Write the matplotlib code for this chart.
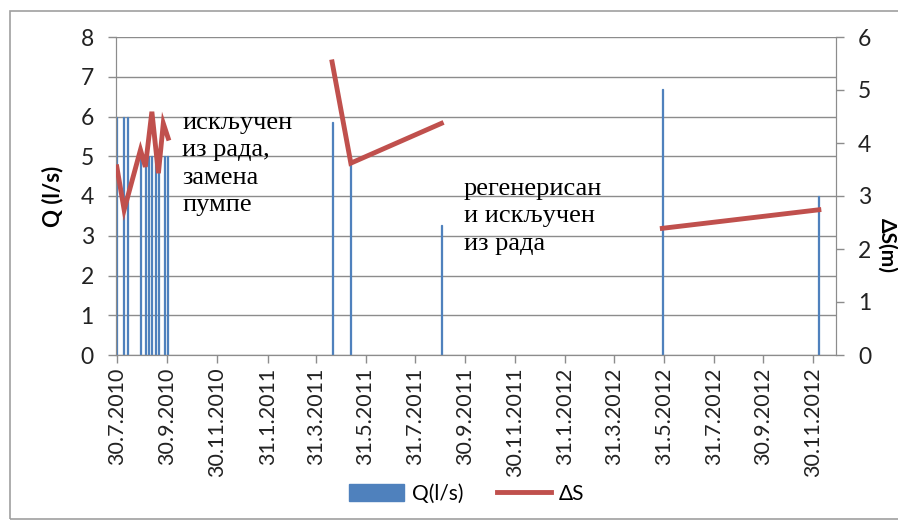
import datetime as dt
import matplotlib
matplotlib.use("Agg")
import matplotlib.pyplot as plt
from matplotlib.patches import Rectangle, Patch
from matplotlib.lines import Line2D

# measurement dates (day, month, year)
q_dates = [(30, 7, 2010), (7, 8, 2010), (12, 8, 2010), (28, 8, 2010), (3, 9, 2010),
           (7, 9, 2010), (11, 9, 2010), (15, 9, 2010), (19, 9, 2010), (26, 9, 2010),
           (30, 9, 2010), (20, 4, 2011), (13, 5, 2011), (1, 9, 2011), (29, 5, 2012),
           (7, 12, 2012)]
q_values = [6.0, 6.0, 6.0, 5.0, 5.0, 5.0, 5.0, 5.0, 5.0, 5.0,
            5.0, 5.85, 4.82, 3.27, 6.7, 4.0]

# drawdown, split into separate runs of readings
ds_runs = [
    ([(30, 7, 2010), (8, 8, 2010), (28, 8, 2010), (3, 9, 2010), (11, 9, 2010),
      (19, 9, 2010), (25, 9, 2010), (1, 10, 2010)],
     [3.55, 2.74, 3.87, 3.55, 4.59, 3.43, 4.37, 4.09]),
    ([(20, 4, 2011), (13, 5, 2011), (1, 9, 2011)],
     [5.53, 3.62, 4.37]),
    ([(29, 5, 2012), (7, 12, 2012)],
     [2.39, 2.74]),
]

tick_dates = [(30, 7, 2010), (30, 9, 2010), (30, 11, 2010), (31, 1, 2011), (31, 3, 2011),
              (31, 5, 2011), (31, 7, 2011), (30, 9, 2011), (30, 11, 2011), (31, 1, 2012),
              (31, 3, 2012), (31, 5, 2012), (31, 7, 2012), (30, 9, 2012), (30, 11, 2012)]


def d(t):
    return dt.date(t[2], t[1], t[0])


blue = "#4F81BD"
red = "#C0504D"
grid = "#8C8C8C"
sans = "Lato"

fig = plt.figure(figsize=(8.98, 5.26), dpi=100)
fig.patches.append(Rectangle((10 / 898, 7 / 526), 895 / 898, 508 / 526,
                             transform=fig.transFigure, fill=False,
                             edgecolor="#A0A0A0", linewidth=1.2))

ax = fig.add_axes([116 / 898, 1 - 355 / 526, 720 / 898, 318 / 526])
ax2 = ax.twinx()

ax.bar([d(t) for t in q_dates], q_values, width=1.3, color="#A7C0E0",
       edgecolor=blue, linewidth=0.9, zorder=2)
for dates, vals in ds_runs:
    ax2.plot([d(t) for t in dates], vals, color=red, linewidth=3.5,
             solid_joinstyle="miter", zorder=3)

ax.set_xlim(dt.date(2010, 7, 29), dt.date(2012, 12, 28))
ax.set_ylim(0, 8)
ax2.set_ylim(0, 6)
ax.set_yticks(range(0, 9))
ax2.set_yticks(range(0, 7))
ax.set_xticks([d(t) for t in tick_dates])
ax.set_xticklabels([f"{t[0]}.{t[1]}.{t[2]}" for t in tick_dates], rotation=90,
                   fontsize=15.5, family=sans, color="#222222")
ax.grid(axis="y", color=grid, linewidth=1.0, zorder=0)
ax.set_axisbelow(True)

for a in (ax, ax2):
    a.spines["top"].set_visible(False)
    for s in ("left", "right", "bottom"):
        a.spines[s].set_color(grid)
    a.tick_params(colors=grid, length=6, width=1, labelsize=16.5)
for lab in ax.get_yticklabels() + ax2.get_yticklabels():
    lab.set_family(sans)
    lab.set_color("#222222")
for lab in ax.get_xticklabels():
    lab.set_color("#222222")
ax.tick_params(axis="x", labelsize=15.5, pad=3)
ax.tick_params(axis="y", pad=10)
ax2.tick_params(axis="y", pad=10)

ax.set_ylabel("Q (l/s)", fontsize=16, fontweight="bold", family=sans, labelpad=12)
fig.text(887 / 898, 1 - 245 / 526, "ΔS(m)", rotation=270, fontsize=15,
         fontweight="bold", family=sans, ha="center", va="center")

serif = "Liberation Serif"
ax.text(182 / 898, 1 - 112 / 526, "искључен\nиз рада,\nзамена\nпумпе",
        transform=fig.transFigure, fontsize=19, family=serif, va="top",
        ha="left", linespacing=1.32)
ax.text(464 / 898, 1 - 178 / 526, "регенерисан\nи искључен\nиз рада",
        transform=fig.transFigure, fontsize=19, family=serif, va="top",
        ha="left", linespacing=1.32)

handles = [Patch(facecolor=blue, edgecolor=blue),
           Line2D([0], [0], color=red, linewidth=3.5)]
fig.legend(handles, ["Q(l/s)", "ΔS"], loc="center", bbox_to_anchor=(467 / 898, 1 - 494 / 526),
           ncol=2, frameon=False, prop={"family": sans, "size": 15},
           handlelength=2.6, handleheight=0.9, columnspacing=1.6, handletextpad=0.4)

fig.savefig("out.png", dpi=100, facecolor="white")
